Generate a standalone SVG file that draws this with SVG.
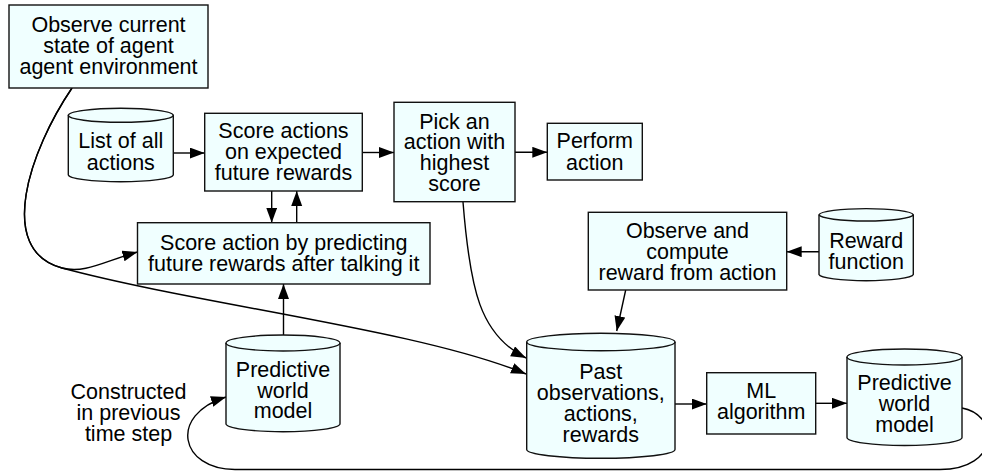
<svg xmlns="http://www.w3.org/2000/svg" width="982" height="472" viewBox="0 0 982 472">
<defs>
<style>
.box{fill:#f0ffff;stroke:#111;stroke-width:1.4}
.cyl{fill:#f0ffff;stroke:#111;stroke-width:1.4}
.cylin{fill:none;stroke:#111;stroke-width:1.4}
.edge{fill:none;stroke:#000;stroke-width:1.4}
text{font-family:"Liberation Sans",Arial,Helvetica,sans-serif;font-size:21.5px;fill:#000;text-anchor:middle}
</style>
<marker id="ah" markerUnits="userSpaceOnUse" viewBox="0 0 16 12" markerWidth="16" markerHeight="12" refX="15" refY="5.5" orient="auto">
<path d="M0,0 L15,5.5 L0,11 Z" fill="#000"/>
</marker>
</defs>
<rect width="982" height="472" fill="#fff"/>

<g id="edges">
<path class="edge" marker-end="url(#ah)" d="M173.3,153 L204.7,153"/>
<path class="edge" marker-end="url(#ah)" d="M362.3,152.5 L394,152.5"/>
<path class="edge" marker-end="url(#ah)" d="M515,152.3 L547.3,152.3"/>
<path class="edge" marker-end="url(#ah)" d="M271.7,191 L271.7,222.7"/>
<path class="edge" marker-end="url(#ah)" d="M296.7,222.7 L296.7,191"/>
<path class="edge" marker-end="url(#ah)" d="M283.5,335 L283.5,284"/>
<path class="edge" marker-end="url(#ah)" d="M72,88 C30,150 -5,250 62,268 C85,274 105,261 137.5,252"/>
<path class="edge" marker-end="url(#ah)" d="M72,88 C30,150 -5,250 62,268 C200,305 420,330 526,374"/>
<path class="edge" marker-end="url(#ah)" d="M463,202 C470,290 480,335 526,358"/>
<path class="edge" marker-end="url(#ah)" d="M625.7,290 L616.7,331"/>
<path class="edge" marker-end="url(#ah)" d="M819,251.7 L786.7,251.7"/>
<path class="edge" marker-end="url(#ah)" d="M675,404 L706.7,404"/>
<path class="edge" marker-end="url(#ah)" d="M815.7,403.3 L847,403.3"/>
<path class="edge" marker-end="url(#ah)" d="M962,408 C1000,415 1000,469.5 940,469.5 L235,469.5 C180,469.5 168,415 226,397"/>
</g>

<g id="observe">
<rect class="box" x="9" y="5" width="199" height="83"/>
<text><tspan x="108.5" y="31.5">Observe current</tspan><tspan x="108.5" y="52.8">state of agent</tspan><tspan x="108.5" y="74.1">agent environment</tspan></text>
</g>

<g id="list-actions">
<path class="cyl" d="M68.3,115.3 A52.5,7 0 0 1 173.3,115.3 L173.3,174.7 A52.5,7 0 0 1 68.3,174.7 Z"/>
<path class="cylin" d="M68.3,115.3 A52.5,7 0 0 0 173.3,115.3"/>
<text><tspan x="120.8" y="148.3">List of all</tspan><tspan x="120.8" y="169.8">actions</tspan></text>
</g>

<g id="score-actions">
<rect class="box" x="204.7" y="113.3" width="157.6" height="77.7"/>
<text><tspan x="283.5" y="138.3">Score actions</tspan><tspan x="283.5" y="159.3">on expected</tspan><tspan x="283.5" y="180.2">future rewards</tspan></text>
</g>

<g id="pick">
<rect class="box" x="394" y="102.3" width="121" height="99.4"/>
<text><tspan x="454.5" y="128.5">Pick an</tspan><tspan x="454.5" y="149.3">action with</tspan><tspan x="454.5" y="170.1">highest</tspan><tspan x="454.5" y="190.9">score</tspan></text>
</g>

<g id="perform">
<rect class="box" x="547.3" y="123.3" width="95" height="56.7"/>
<text><tspan x="594.8" y="148.3">Perform</tspan><tspan x="594.8" y="169.8">action</tspan></text>
</g>

<g id="score-predict">
<rect class="box" x="137.5" y="222.7" width="292.5" height="61.3"/>
<text><tspan x="283.75" y="249.5">Score action by predicting</tspan><tspan x="283.75" y="270.5">future rewards after talking it</tspan></text>
</g>

<g id="observe-compute">
<rect class="box" x="588.3" y="212.3" width="198.4" height="77.7"/>
<text><tspan x="687.5" y="238.3">Observe and</tspan><tspan x="687.5" y="259.3">compute</tspan><tspan x="687.5" y="280.2">reward from action</tspan></text>
</g>

<g id="reward-function">
<path class="cyl" d="M819,214.8 A47.2,6.5 0 0 1 913.3,214.8 L913.3,274.5 A47.2,6.5 0 0 1 819,274.5 Z"/>
<path class="cylin" d="M819,214.8 A47.2,6.5 0 0 0 913.3,214.8"/>
<text><tspan x="866.2" y="248.3">Reward</tspan><tspan x="866.2" y="268.8">function</tspan></text>
</g>

<g id="world-model-prev">
<path class="cyl" d="M226,343 A57,8 0 0 1 340,343 L340,423.7 A57,8 0 0 1 226,423.7 Z"/>
<path class="cylin" d="M226,343 A57,8 0 0 0 340,343"/>
<text><tspan x="283" y="376.8">Predictive</tspan><tspan x="283" y="397.6">world</tspan><tspan x="283" y="418.4">model</tspan></text>
</g>

<g id="constructed-label">
<text><tspan x="128.5" y="398.5">Constructed</tspan><tspan x="128.5" y="419.8">in previous</tspan><tspan x="128.5" y="441.2">time step</tspan></text>
</g>

<g id="past">
<path class="cyl" d="M526.7,342 A74.15,8.7 0 0 1 675,342 L675,449.6 A74.15,8.7 0 0 1 526.7,449.6 Z"/>
<path class="cylin" d="M526.7,342 A74.15,8.7 0 0 0 675,342"/>
<text><tspan x="600.8" y="379">Past</tspan><tspan x="600.8" y="400">observations,</tspan><tspan x="600.8" y="420.8">actions,</tspan><tspan x="600.8" y="441.7">rewards</tspan></text>
</g>

<g id="ml">
<rect class="box" x="706.7" y="372.7" width="109" height="61.3"/>
<text><tspan x="761.2" y="398.3">ML</tspan><tspan x="761.2" y="419.2">algorithm</tspan></text>
</g>

<g id="world-model-new">
<path class="cyl" d="M847,357 A57.5,8 0 0 1 962,357 L962,437.5 A57.5,8 0 0 1 847,437.5 Z"/>
<path class="cylin" d="M847,357 A57.5,8 0 0 0 962,357"/>
<text><tspan x="904.5" y="390">Predictive</tspan><tspan x="904.5" y="410.8">world</tspan><tspan x="904.5" y="431.7">model</tspan></text>
</g>
</svg>
